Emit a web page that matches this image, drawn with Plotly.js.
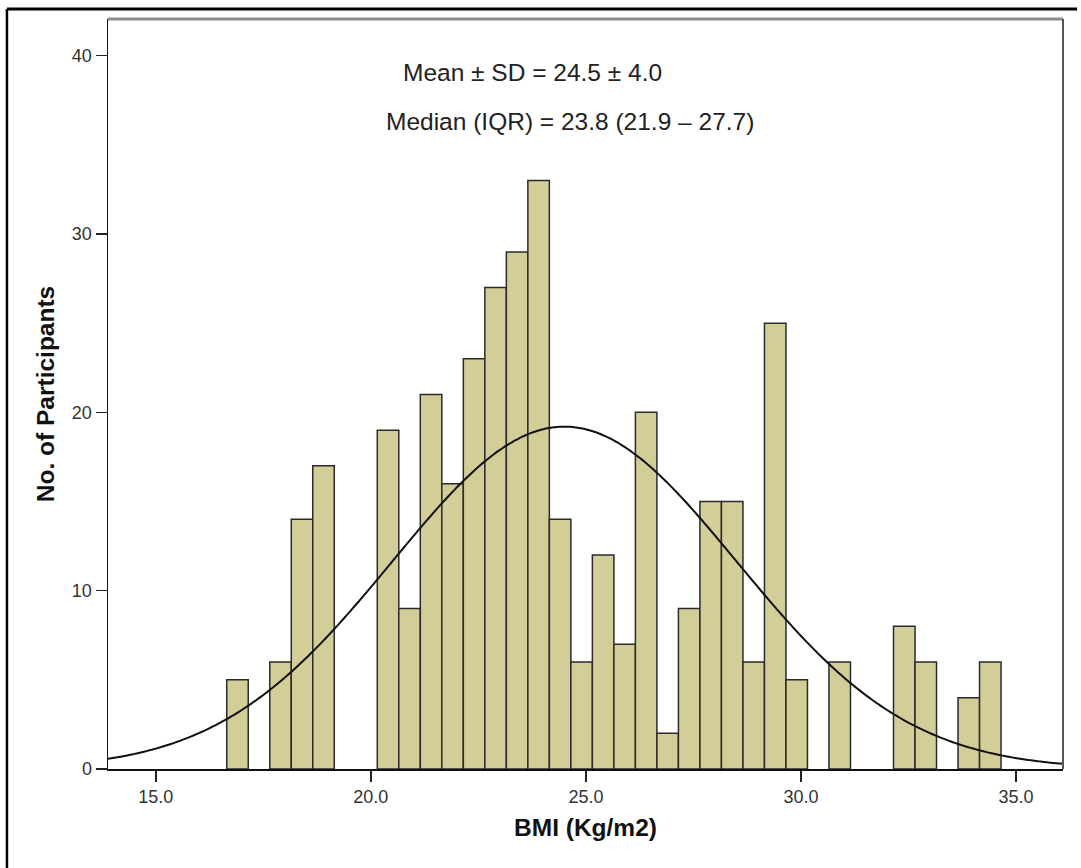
<!DOCTYPE html>
<html>
<head>
<meta charset="utf-8">
<script src="https://cdn.plot.ly/plotly-3.0.1.min.js"></script>
<style>
  html, body { margin: 0; padding: 0; background: #ffffff; }
  #chart { width: 1081px; height: 868px; }
</style>
</head>
<body>
<div id="chart"></div>
<script>
// ---- Data ----
const binStart = 16.65;      // lower edge of first bin (BMI)
const binWidth = 0.5;        // bin width (BMI)
const counts = [5, 0, 6, 14, 17, 0, 0, 19, 9, 21, 16, 23, 27, 29, 33, 14, 6, 12, 7, 20, 2, 9, 15, 15, 6, 25, 5, 0, 6, 0, 0, 8, 6, 0, 4, 6];
const meanBMI = 24.5;
const sdBMI = 4.0;
const xTickVals = [15, 20, 25, 30, 35];
const xTickText = ["15.0", "20.0", "25.0", "30.0", "35.0"];
const yTickVals = [0, 10, 20, 30, 40];
const yTickText = ["0", "10", "20", "30", "40"];
const statLine1 = "Mean \u00b1 SD = 24.5 \u00b1 4.0";
const statLine2 = "Median (IQR) = 23.8 (21.9 \u2013 27.7)";
const xTitle = "BMI (Kg/m2)";
const yTitle = "No. of Participants";

// ---- Derived ----
const barX = [], barY = [];
counts.forEach((c, i) => {
  if (c > 0) { barX.push(binStart + binWidth * (i + 0.5)); barY.push(c); }
});
const nTotal = counts.reduce((a, b) => a + b, 0);
const xRange = [13.89, 36.09];
const curveX = [], curveY = [];
const steps = 300;
for (let k = 0; k <= steps; k++) {
  const x = xRange[0] + (xRange[1] - xRange[0]) * k / steps;
  const z = (x - meanBMI) / sdBMI;
  curveX.push(x);
  curveY.push(nTotal * binWidth * Math.exp(-0.5 * z * z) / (sdBMI * Math.sqrt(2 * Math.PI)));
}

const font = "Liberation Sans, Arial, sans-serif";

const traces = [
  {
    type: "bar",
    x: barX,
    y: barY,
    width: binWidth,
    marker: { color: "#d3ce97", line: { color: "#2b2b2b", width: 1.5 } },
    hoverinfo: "x+y",
    showlegend: false
  },
  {
    type: "scatter",
    mode: "lines",
    x: curveX,
    y: curveY,
    line: { color: "#111111", width: 2, shape: "spline" },
    hoverinfo: "skip",
    showlegend: false
  }
];

const layout = {
  width: 1081,
  height: 868,
  margin: { l: 108, r: 18, t: 19, b: 99, pad: 0 },
  paper_bgcolor: "#ffffff",
  plot_bgcolor: "#ffffff",
  bargap: 0,
  showlegend: false,
  font: { family: font, color: "#222" },
  xaxis: {
    range: xRange,
    tickvals: xTickVals,
    ticktext: xTickText,
    ticks: "outside",
    ticklen: 11,
    tickwidth: 1.5,
    tickcolor: "#222",
    tickfont: { family: font, size: 18, color: "#333" },
    showgrid: false,
    zeroline: false,
    showline: true,
    linecolor: "#111",
    linewidth: 1.5,
    title: { text: "<b>" + xTitle + "</b>", font: { family: font, size: 24.5, color: "#111" }, standoff: 13 },
    automargin: false,
    fixedrange: true
  },
  yaxis: {
    range: [0, 42.06],
    tickvals: yTickVals,
    ticktext: yTickText,
    ticks: "outside",
    ticklen: 11,
    tickwidth: 1.5,
    tickcolor: "#222",
    tickfont: { family: font, size: 18, color: "#333" },
    showgrid: false,
    zeroline: false,
    showline: true,
    linecolor: "#111",
    linewidth: 1.5,
    title: { text: "<b>" + yTitle + "</b>", font: { family: font, size: 24.5, color: "#111" }, standoff: 10 },
    automargin: false,
    fixedrange: true
  },
  shapes: [
    // top border of plot area (grey)
    { type: "line", xref: "paper", yref: "paper", x0: 0, x1: 1, y0: 1, y1: 1, line: { color: "#8c8c8c", width: 3 } },
    // right border of plot area
    { type: "line", xref: "paper", yref: "paper", x0: 1, x1: 1, y0: 0, y1: 1, line: { color: "#555", width: 2 } },
    // outer frame: left and top edges
    { type: "line", xref: "paper", yref: "paper", x0: -0.1058, x1: -0.1058, y0: 1.0133, y1: -0.2, line: { color: "#000", width: 2.5 } },
    { type: "line", xref: "paper", yref: "paper", x0: -0.1058, x1: 1.0148, y0: 1.0133, y1: 1.0133, line: { color: "#000", width: 3 } }
  ],
  annotations: [
    { xref: "paper", yref: "paper", x: 0.444, y: 0.928, text: statLine1, showarrow: false, xanchor: "center", yanchor: "middle", font: { family: font, size: 24.5, color: "#222" } },
    { xref: "paper", yref: "paper", x: 0.484, y: 0.863, text: statLine2, showarrow: false, xanchor: "center", yanchor: "middle", font: { family: font, size: 24.5, color: "#222" } }
  ]
};

Plotly.newPlot("chart", traces, layout, { displayModeBar: false, staticPlot: true });
</script>
</body>
</html>
